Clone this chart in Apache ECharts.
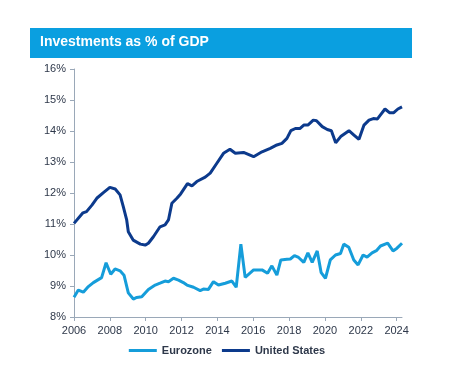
<!DOCTYPE html>
<html>
<head>
<meta charset="utf-8">
<script src="https://cdn.jsdelivr.net/npm/echarts@6/dist/echarts.min.js"></script>
<style>
html,body{margin:0;padding:0;background:#fff;}
#chart{width:454px;height:365px;}
</style>
</head>
<body>
<div id="chart"></div>
<script>
const titleText = 'Investments as % of GDP';
const seriesNames = ['Eurozone', 'United States'];
const xTickYears = [2006, 2008, 2010, 2012, 2014, 2016, 2018, 2020, 2022, 2024];

const usX = [2006.0,2006.5,2006.7,2007.0,2007.27,2007.64,2008.0,2008.3,2008.57,2008.75,2008.94,2009.03,2009.3,2009.7,2009.97,2010.15,2010.43,2010.8,2011.08,2011.27,2011.46,2011.74,2011.95,2012.33,2012.58,2012.85,2013.32,2013.6,2013.97,2014.34,2014.7,2015.0,2015.46,2016.02,2016.49,2016.95,2017.32,2017.6,2017.88,2018.1,2018.35,2018.6,2018.82,2019.05,2019.35,2019.53,2019.85,2020.13,2020.36,2020.6,2020.88,2021.34,2021.62,2021.9,2022.18,2022.46,2022.7,2022.93,2023.1,2023.35,2023.6,2023.84,2024.07,2024.3];
const usY = [11.02,11.36,11.40,11.61,11.83,12.01,12.18,12.13,11.94,11.56,11.13,10.75,10.48,10.35,10.32,10.38,10.59,10.91,10.97,11.13,11.67,11.83,11.97,12.30,12.23,12.37,12.51,12.64,12.96,13.28,13.41,13.28,13.31,13.17,13.33,13.44,13.55,13.60,13.76,14.01,14.08,14.08,14.19,14.19,14.35,14.33,14.14,14.05,14.01,13.62,13.82,14.01,13.87,13.73,14.19,14.35,14.40,14.39,14.52,14.71,14.59,14.59,14.71,14.78];

const ezX = [2006.0,2006.24,2006.52,2006.8,2007.08,2007.54,2007.79,2008.05,2008.29,2008.57,2008.79,2009.03,2009.31,2009.5,2009.78,2010.15,2010.53,2010.8,2011.08,2011.27,2011.55,2011.83,2012.1,2012.3,2012.67,2013.04,2013.22,2013.5,2013.78,2014.06,2014.44,2014.81,2015.05,2015.31,2015.55,2016.02,2016.49,2016.8,2017.04,2017.32,2017.54,2017.88,2018.07,2018.3,2018.53,2018.82,2019.05,2019.29,2019.57,2019.79,2020.03,2020.3,2020.59,2020.87,2021.05,2021.33,2021.61,2021.85,2022.13,2022.35,2022.63,2022.87,2023.1,2023.5,2023.8,2024.02,2024.3];
const ezY = [8.64,8.87,8.80,8.98,9.11,9.27,9.75,9.38,9.55,9.49,9.35,8.78,8.58,8.63,8.65,8.89,9.03,9.09,9.16,9.14,9.25,9.19,9.11,9.03,8.96,8.85,8.90,8.89,9.14,9.03,9.09,9.16,8.96,10.35,9.28,9.52,9.52,9.41,9.65,9.35,9.84,9.86,9.87,9.98,9.92,9.76,10.07,9.76,10.13,9.43,9.25,9.84,10.00,10.05,10.35,10.25,9.84,9.68,10.00,9.93,10.07,10.14,10.29,10.38,10.13,10.22,10.38];

const pairs = (xs, ys) => xs.map((x, i) => [x, ys[i]]);

const chart = echarts.init(document.getElementById('chart'), null, {renderer: 'canvas'});
const axisColor = '#9AA8B8';
const labelColor = '#2E384A';
const fam = '"Liberation Sans", Arial, sans-serif';
chart.setOption({
  animation: false,
  backgroundColor: '#ffffff',
  graphic: [
    {type: 'rect', left: 30, top: 28, shape: {width: 382, height: 30}, style: {fill: '#0A9FE0'}, z: 0},
    {type: 'text', left: 40, top: 35, style: {text: titleText, fill: '#ffffff', font: 'bold 14px ' + fam}, z: 1}
  ],
  grid: {left: 74, right: 52, top: 69, bottom: 48},
  legend: {
    bottom: 4,
    left: 'center',
    itemWidth: 28,
    itemHeight: 3,
    itemGap: 10,
    icon: 'rect',
    textStyle: {color: labelColor, fontSize: 11, fontWeight: 'bold', fontFamily: fam},
    data: seriesNames
  },
  xAxis: {
    type: 'value',
    min: 2006,
    max: 2024.3,
    interval: 2,
    splitLine: {show: false},
    axisLine: {lineStyle: {color: axisColor, width: 1}},
    axisTick: {length: 4, lineStyle: {color: axisColor}, customValues: xTickYears},
    axisLabel: {color: labelColor, fontSize: 11, fontFamily: fam, margin: 8, customValues: xTickYears, formatter: v => String(v)}
  },
  yAxis: {
    type: 'value',
    min: 8,
    max: 16,
    interval: 1,
    splitLine: {show: false},
    axisLine: {show: true, lineStyle: {color: axisColor, width: 1}},
    axisTick: {show: true, length: 4, lineStyle: {color: axisColor}},
    axisLabel: {color: labelColor, fontSize: 11, fontFamily: fam, margin: 8, formatter: v => v + '%'}
  },
  series: [
    {name: seriesNames[0], type: 'line', data: pairs(ezX, ezY), showSymbol: false, symbol: 'none', lineStyle: {color: '#159DDA', width: 3}, itemStyle: {color: '#159DDA'}},
    {name: seriesNames[1], type: 'line', data: pairs(usX, usY), showSymbol: false, symbol: 'none', lineStyle: {color: '#0C3A8C', width: 3}, itemStyle: {color: '#0C3A8C'}}
  ]
});
</script>
</body>
</html>
